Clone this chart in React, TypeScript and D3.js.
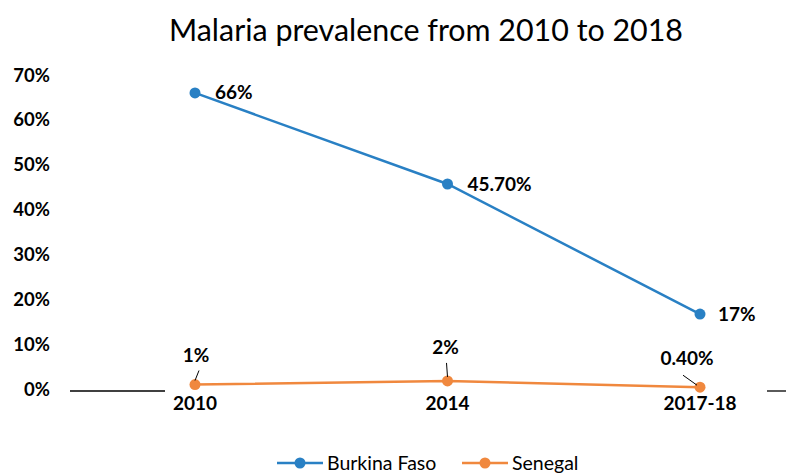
import React from "react";
import * as d3 from "d3";

const categories = ["2010", "2014", "2017-18"];
const burkinaValues = [66, 45.7, 16.7];
const burkinaLabels = ["66%", "45.70%", "17%"];
const senegalValues = [1, 1.8, 0.4];
const senegalLabels = ["1%", "2%", "0.40%"];
const yTicks = [0, 10, 20, 30, 40, 50, 60, 70];
const seriesNames = ["Burkina Faso", "Senegal"];

const W = 786;
const H = 474;
const BLUE = "#2980c4";
const ORANGE = "#f0883e";
const FONT = "Lato, 'Open Sans', sans-serif";

export default function App() {
  const x = d3.scalePoint<string>().domain(categories).range([195, 700]);
  const y = d3.scaleLinear().domain([0, 70]).range([389, 75]);
  const line = d3
    .line<number>()
    .x((_, i) => x(categories[i]) as number)
    .y((d) => y(d));

  const series = [
    { name: seriesNames[0], values: burkinaValues, labels: burkinaLabels, color: BLUE },
    { name: seriesNames[1], values: senegalValues, labels: senegalLabels, color: ORANGE },
  ];

  const bfOffsets = [
    { dx: 20, dy: 6.5 },
    { dx: 20, dy: 6.5 },
    { dx: 18, dy: 6.5 },
  ];
  const snOffsets = [
    { dx: 1, dy: -23, lx1: 4, ly1: -14, lx2: 0, ly2: -4 },
    { dx: -2, dy: -27, lx1: -1, ly1: -18, lx2: 0, ly2: -4 },
    { dx: -13, dy: -22, lx1: -17, ly1: -12, lx2: -3, ly2: -2 },
  ];

  return (
    <svg width={W} height={H} style={{ position: "absolute", left: 0, top: 0, background: "#fff" }}>
      <text x={426} y={41} textAnchor="middle" fontFamily={FONT} fontSize={30.4} fill="#000">
        Malaria prevalence from 2010 to 2018
      </text>

      {yTicks.map((t) => (
        <text
          key={t}
          x={50}
          y={y(t) + 6.6}
          textAnchor="end"
          fontFamily={FONT}
          fontWeight="bold"
          fontSize={18.5}
          fill="#000"
        >
          {t}%
        </text>
      ))}

      <line x1={70} x2={165} y1={391} y2={391} stroke="#000" strokeWidth={1.3} />
      <line x1={767} x2={786} y1={391} y2={391} stroke="#000" strokeWidth={1.3} />

      {series.map((s) => (
        <g key={s.name}>
          <path d={line(s.values) || ""} fill="none" stroke={s.color} strokeWidth={2.5} />
          {s.values.map((v, i) => (
            <circle key={i} cx={x(categories[i])} cy={y(v)} r={5.5} fill={s.color} />
          ))}
        </g>
      ))}

      {categories.map((c) => (
        <text
          key={c}
          x={x(c)}
          y={410}
          textAnchor="middle"
          fontFamily={FONT}
          fontWeight="bold"
          fontSize={19}
          fill="#000"
        >
          {c}
        </text>
      ))}

      {burkinaValues.map((v, i) => (
        <text
          key={"bf" + i}
          x={(x(categories[i]) as number) + bfOffsets[i].dx}
          y={y(v) + bfOffsets[i].dy}
          textAnchor="start"
          fontFamily={FONT}
          fontWeight="bold"
          fontSize={19}
          fill="#000"
        >
          {burkinaLabels[i]}
        </text>
      ))}

      {senegalValues.map((v, i) => {
        const px = x(categories[i]) as number;
        const py = y(v);
        const o = snOffsets[i];
        return (
          <g key={"sn" + i}>
            <line x1={px + o.lx1} y1={py + o.ly1} x2={px + o.lx2} y2={py + o.ly2} stroke="#000" strokeWidth={1} />
            <text
              x={px + o.dx}
              y={py + o.dy}
              textAnchor="middle"
              fontFamily={FONT}
              fontWeight="bold"
              fontSize={19}
              fill="#000"
            >
              {senegalLabels[i]}
            </text>
          </g>
        );
      })}

      {series.map((s, i) => {
        const lx = i === 0 ? 277 : 462;
        return (
          <g key={"lg" + i}>
            <line x1={lx} x2={lx + 46} y1={463} y2={463} stroke={s.color} strokeWidth={2.5} />
            <circle cx={lx + 23} cy={463} r={5.5} fill={s.color} />
            <text x={lx + 50} y={470} fontFamily={FONT} fontSize={19.5} fill="#000">
              {s.name}
            </text>
          </g>
        );
      })}
    </svg>
  );
}
